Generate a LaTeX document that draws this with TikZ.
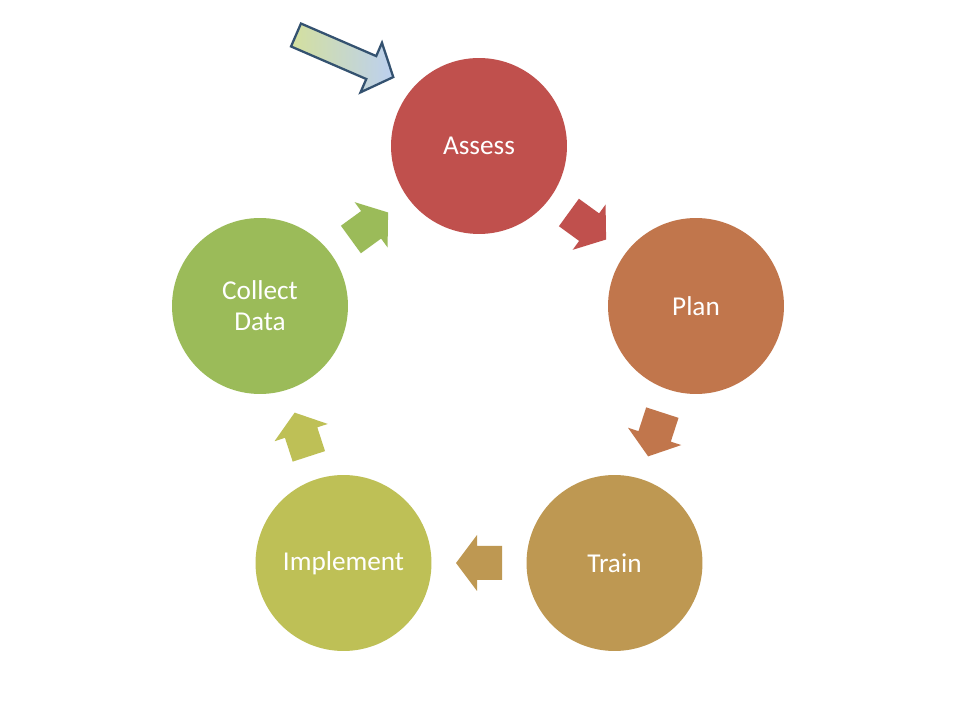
\documentclass[tikz,border=0pt]{standalone}
\usepackage{fontspec}
\setmainfont{Carlito}
\usetikzlibrary{calc}

\definecolor{assessred}{RGB}{192,80,77}
\definecolor{planorange}{RGB}{193,118,76}
\definecolor{trainbrown}{RGB}{190,152,82}
\definecolor{implyellow}{RGB}{190,192,86}
\definecolor{collectgreen}{RGB}{155,187,89}
\definecolor{startleft}{RGB}{212,224,158}
\definecolor{startright}{RGB}{188,208,240}
\definecolor{startline}{RGB}{52,82,112}

\tikzset{
  stage/.style={circle, minimum size=3.52cm, inner sep=0pt, align=center,
    text=white, font=\fontsize{15.5}{17.5}\selectfont},
  pics/cyclearrow/.style={code={
    \fill[#1] (-23,-17) -- (2,-17) -- (2,-28) -- (23,0) -- (2,28)
      -- (2,17) -- (-23,17) -- cycle;
  }}
}

\begin{document}
\begin{tikzpicture}[x=0.02cm, y=0.02cm]
    \useasboundingbox[fill=white] (0,0) rectangle (960,720);

    % stages of the cycle
    \node[stage, fill=assessred] (assess) at (479,574) {Assess};
    \node[stage, fill=planorange] (plan) at (696,414) {Plan};
    \node[stage, fill=trainbrown] (train) at (614.5,157) {Train};
    \node[stage, fill=implyellow] (implement) at (343.5,157) {Implement};
    \node[stage, fill=collectgreen] (collect) at (260,414) {Collect\\Data};

    % block arrows between the stages
    \foreach \a/\b/\ang/\col in {assess/plan/-36/assessred,
        plan/train/-108/planorange, train/implement/180/trainbrown,
        implement/collect/108/implyellow, collect/assess/36/collectgreen}
      \pic[rotate=\ang] at ($(\a)!0.5!(\b)$) {cyclearrow=\col};

    % entry arrow
    \coordinate (start) at (296,685);
    \begin{scope}[shift={(start)}, rotate=-23.4]
      \draw[line width=1.3pt, draw=startline, line join=miter,
        left color=startleft, right color=startright]
        (0,-12.5) -- (82,-12.5) -- (82,-27) -- (106,0) -- (82,27)
        -- (82,12.5) -- (0,12.5) -- cycle;
    \end{scope}
\end{tikzpicture}
\end{document}
